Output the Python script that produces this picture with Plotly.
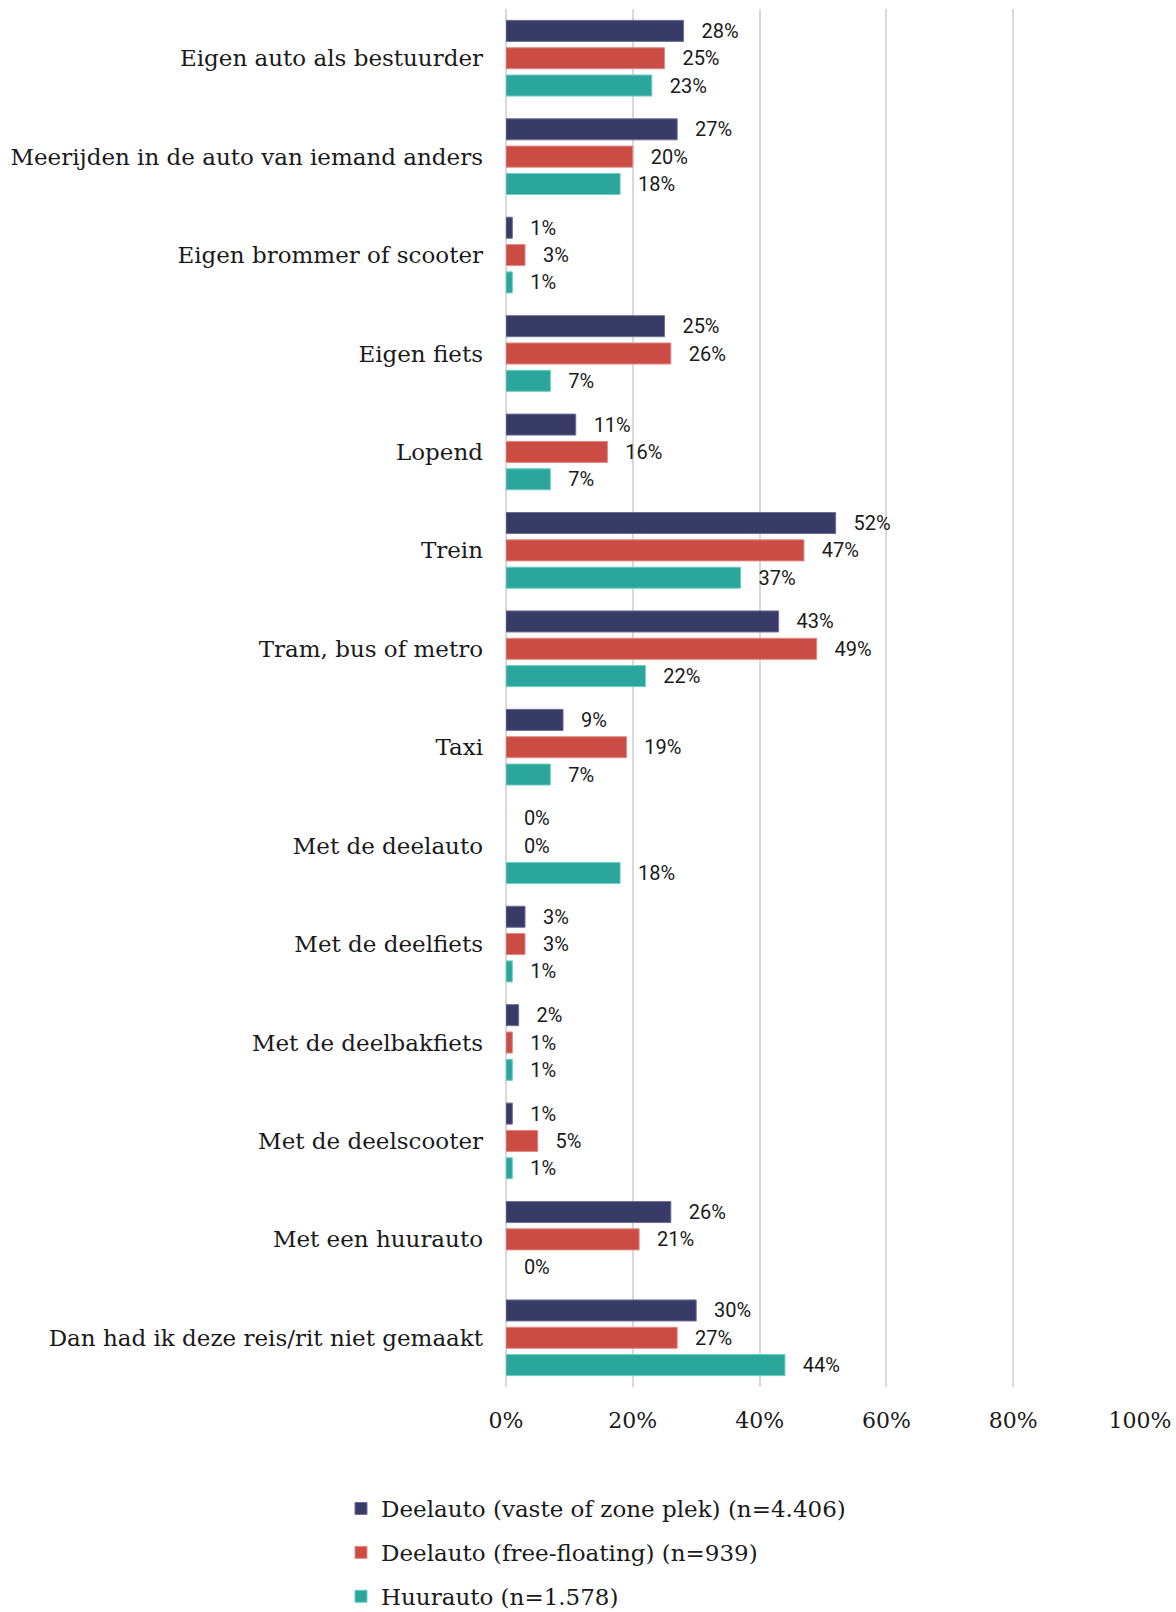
import plotly.graph_objects as go

categories = [
    "Eigen auto als bestuurder",
    "Meerijden in de auto van iemand anders",
    "Eigen brommer of scooter",
    "Eigen fiets",
    "Lopend",
    "Trein",
    "Tram, bus of metro",
    "Taxi",
    "Met de deelauto",
    "Met de deelfiets",
    "Met de deelbakfiets",
    "Met de deelscooter",
    "Met een huurauto",
    "Dan had ik deze reis/rit niet gemaakt",
]
series_names = [
    "Deelauto (vaste of zone plek) (n=4.406)",
    "Deelauto (free-floating) (n=939)",
    "Huurauto (n=1.578)",
]
vaste = [28, 27, 1, 25, 11, 52, 43, 9, 0, 3, 2, 1, 26, 30]
free_floating = [25, 20, 3, 26, 16, 47, 49, 19, 0, 3, 1, 5, 21, 27]
huurauto = [23, 18, 1, 7, 7, 37, 22, 7, 18, 1, 1, 1, 0, 44]
colors = ["#383B66", "#CB4C44", "#2AA69B"]
line_colors = ["#6E7196", "#E08A84", "#72CEC5"]
x_ticks = [0, 20, 40, 60, 80, 100]
x_ticklabels = ["0%", "20%", "40%", "60%", "80%", "100%"]

fig = go.Figure()
for i, (name, vals, c, lc) in enumerate(zip(series_names, [vaste, free_floating, huurauto], colors, line_colors)):
    fig.add_trace(go.Bar(
        y=categories, x=vals, name=name, orientation="h",
        legendgroup=f"g{i}",
        marker=dict(color=c, line=dict(color=lc, width=[1 if v > 0 else 0 for v in vals])),
        text=[f"{v}%" for v in vals],
        texttemplate="   %{text}",
        textposition="outside",
        constraintext="none",
        textfont=dict(family="Roboto", size=20, color="#1a1a1a"),
        cliponaxis=False,
    ))

fig.update_layout(
    width=1176, height=1612,
    margin=dict(l=506, r=36, t=9, b=225, autoexpand=False),
    barmode="group", bargap=0.167, bargroupgap=0.23,
    plot_bgcolor="white", paper_bgcolor="white",
    font=dict(family="DejaVu Serif", color="#1a1a1a"),
    showlegend=True,
    legend=dict(
        orientation="v", xref="container", yref="container",
        x=341 / 1176, y=1 - 1487 / 1612, xanchor="left", yanchor="top",
        font=dict(family="DejaVu Serif", size=23, color="#1a1a1a"),
        traceorder="grouped", itemwidth=30, tracegroupgap=11,
    ),
)
fig.update_xaxes(
    range=[0, 100], tickvals=x_ticks, ticktext=x_ticklabels,
    showgrid=True, gridcolor="#D9D9D9", gridwidth=2,
    zeroline=True, zerolinecolor="#D9D9D9", zerolinewidth=2,
    tickfont=dict(family="DejaVu Serif", size=22, color="#1a1a1a"),
    ticklabelstandoff=18, showline=False, automargin=False,
)
fig.update_yaxes(
    autorange="reversed", showgrid=False,
    tickfont=dict(family="DejaVu Serif", size=23, color="#1a1a1a"),
    ticklabelstandoff=22, showline=False, automargin=False,
)
fig.write_html("out.html")
